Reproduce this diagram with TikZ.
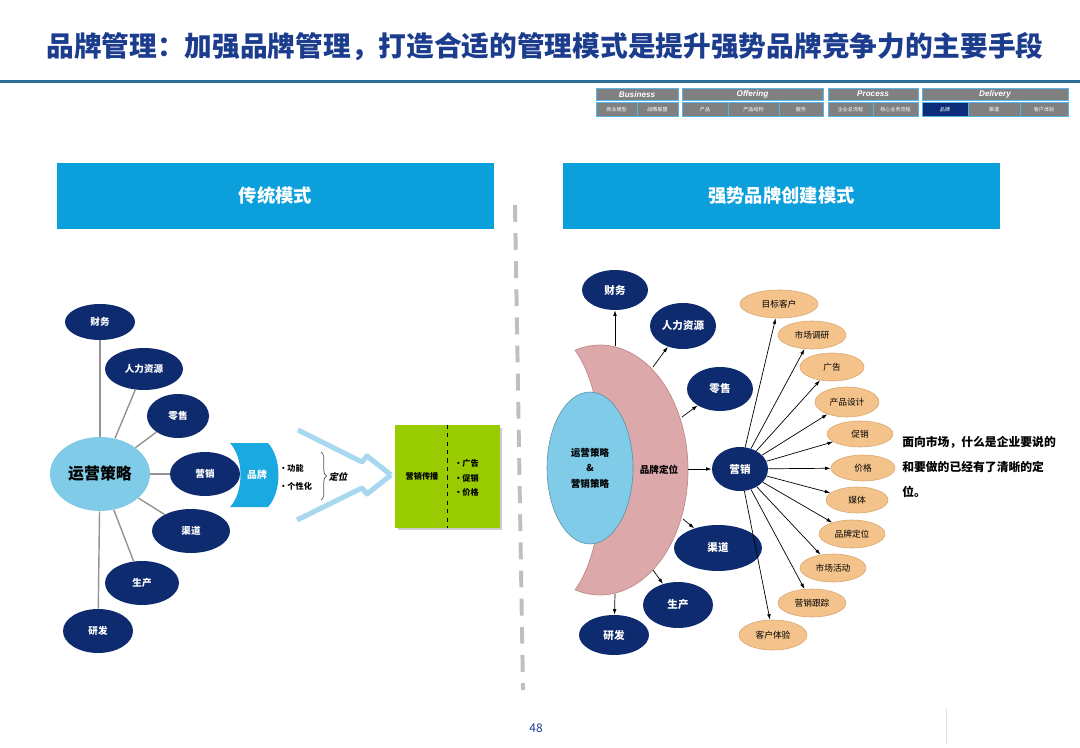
\documentclass[tikz,border=0pt]{standalone}
\usepackage{fontspec}
\setmainfont{Noto Sans CJK SC}
\newfontfamily\navfont{Liberation Sans}
\newfontfamily\slantcjk{Noto Sans CJK SC}[FakeSlant=0.2]
\usetikzlibrary{shapes.geometric,arrows.meta,decorations.pathreplacing}

\definecolor{titleblue}{HTML}{1C3C8E}
\definecolor{rulecol}{HTML}{2C6C95}
\definecolor{navgray}{HTML}{808080}
\definecolor{navline}{HTML}{55B5E6}
\definecolor{navsel}{HTML}{0B2C78}
\definecolor{headblue}{HTML}{0BA0DC}
\definecolor{darknavy}{HTML}{0D2B6E}
\definecolor{skyblue}{HTML}{7FCBE8}
\definecolor{brandblue}{HTML}{1AA9E1}
\definecolor{chevblue}{HTML}{A8D8EF}
\definecolor{limegreen}{HTML}{99CC00}
\definecolor{rosepink}{HTML}{DCA8AA}
\definecolor{roseedge}{HTML}{BE8A8D}
\definecolor{sandorange}{HTML}{F4C38B}
\definecolor{sandedge}{HTML}{D8A56E}

\newlength\pxl
\setlength\pxl{0.025cm}

\tikzset{
  navyell/.style={ellipse,fill=darknavy,text=white,inner sep=0pt,font=\bfseries\fontsize{6.8}{8}\selectfont},
  sandell/.style={ellipse,fill=sandorange,draw=sandedge,line width=.4pt,inner sep=0pt,font=\fontsize{6.2}{7}\selectfont},
  headbox/.style={rectangle,fill=headblue,text=white,inner sep=0pt,minimum width=437\pxl,minimum height=66\pxl,font=\bfseries\fontsize{13}{15}\selectfont},
  navcell/.style={fill=navgray,draw=navline,line width=.5pt},
  arr/.style={-{Latex[length=4pt,width=2.6pt]},line width=.5pt},
  spoke/.style={draw=gray!85,line width=1pt},
  smalltxt/.style={anchor=west,inner sep=0pt,font=\bfseries\fontsize{5.8}{7}\selectfont},
}

\begin{document}
\begin{tikzpicture}[x=0.025cm,y=-0.025cm,font=\small]
  \useasboundingbox (0,0) rectangle (1080,748);
  \node[text=titleblue,font=\bfseries\fontsize{19.7}{22}\selectfont] (title) at (545,47) {品牌管理：加强品牌管理，打造合适的管理模式是提升强势品牌竞争力的主要手段};
  \fill[rulecol] (0,80.5) rectangle (1080,83.5);

  % navigation bar
  \foreach \xa/\xb/\lab in {596/678/Business,682/823/Offering,828/918/Process,922/1068/Delivery}{
    \draw[navcell] (\xa,88) rectangle (\xb,100.5);
    \node[text=white,font=\navfont\bfseries\itshape\fontsize{5.8}{6}\selectfont] (nav\lab) at ({(\xa+\xb)/2},94.2) {\lab};
  }
  \foreach \xa/\xb/\lab/\nm in {596/637/商业模型/a,637/678/战略联盟/b,682/728/产品/c,728/779/产品结构/d,779/823/服务/e,828/873/企业总流程/f,873/918/核心业务流程/g,968/1020/渠道/i,1020/1068/客户体验/j}{
    \draw[navcell] (\xa,102) rectangle (\xb,116.5);
    \node[text=white,font=\fontsize{3.6}{4}\selectfont] (sub\nm) at ({(\xa+\xb)/2},109.2) {\lab};
  }
  \draw[navcell,fill=navsel] (922,102) rectangle (968,116.5);
  \node[text=white,font=\fontsize{3.6}{4}\selectfont] (subh) at (945,109.2) {品牌};

  % column heads and separator
  \node[headbox] (lhead) at (275.5,196) {传统模式};
  \node[headbox] (rhead) at (781.5,196) {强势品牌创建模式};
  \draw[gray!50,line width=2.8pt,dash pattern=on 12pt off 8pt] (515,205) -- (523,690);

  % traditional mode
  \node[ellipse,fill=skyblue,inner sep=0pt,minimum width=100\pxl,minimum height=74\pxl,font=\bfseries\fontsize{11.3}{13}\selectfont] (ops) at (100,474) {运营策略};
  \foreach \nm/\cx/\cy/\w/\h/\lab in {fin/100/322/70/36/财务,hr/144/369/78/42/人力资源,ret/178/416/62/44/零售,mkt/205/474/70/44/营销,chn/191/531/78/44/渠道,pro/142/583/74/44/生产,rd/98/631/70/44/研发}{
    \node[navyell,minimum width=\w\pxl,minimum height=\h\pxl] (\nm) at (\cx,\cy) {\lab};
    \draw[spoke] (ops) -- (\nm);
  }
  \fill[brandblue] (230,443) -- (268,443) .. controls (282,458) and (282,492) .. (268,507) -- (230,507) .. controls (244,492) and (244,458) .. (230,443) -- cycle;
  \node[text=white,font=\bfseries\fontsize{7}{8}\selectfont] (brand) at (257,475) {品牌};
  \node[smalltxt] (func) at (279,468) {•功能};
  \node[smalltxt] (pers) at (279,486) {•个性化};
  \draw[gray!70!black,line width=.5pt,decorate,decoration={brace,amplitude=4pt}] (321,452) -- (321,500);
  \node[font=\slantcjk\bfseries\fontsize{6.5}{7}\selectfont] (posi) at (338,477) {定位};
  \draw[chevblue,line width=3.6pt,line join=round] (298,430) -- (362,462) -- (367,456) -- (391,475);
  \draw[chevblue,line width=3.6pt,line join=round] (297,520) -- (362,488) -- (367,494) -- (391,475);
  \fill[gray!40] (398,428) rectangle (502,530);
  \node[fill=limegreen,inner sep=0pt,minimum width=105\pxl,minimum height=103\pxl] (mc) at (447.5,476.5) {};
  \draw[dashed,line width=.5pt] (mc.north) -- (mc.south);
  \node[font=\bfseries\fontsize{5.8}{7}\selectfont] (comm) at (422,476) {营销传播};
  \node[smalltxt] (ad) at (454,463) {•广告};
  \node[smalltxt] (promo) at (454,478) {•促销};
  \node[smalltxt] (price) at (454,492) {•价格};

  % strong brand mode
  \filldraw[fill=rosepink,draw=roseedge,line width=.5pt] plot[domain=-106.5:106.5,samples=50] ({600+88*cos(\x)},{470+125*sin(\x)}) .. controls (612,540) and (612,400) .. (575,350.2) -- cycle;
  \node[ellipse,fill=skyblue,draw=skyblue!70!black,line width=.4pt,inner sep=0pt,minimum width=86\pxl,minimum height=152\pxl,align=center,font=\bfseries\fontsize{6.8}{11}\selectfont] (ops2) at (590,468) {运营策略\\\&\\营销策略};
  \node[font=\bfseries\fontsize{6.8}{8}\selectfont] (bpos) at (659,470) {品牌定位};
  \foreach \nm/\cx/\cy/\w/\h/\lab in {fin2/615/290/66/40/财务,hr2/683/326/66/46/人力资源,ret2/720/389/66/44/零售,mkt2/740/469/56/44/营销,chn2/718/548/88/46/渠道,pro2/678/605/70/46/生产,rd2/614/635/70/40/研发}{
    \node[navyell,font=\bfseries\fontsize{7.5}{8}\selectfont,minimum width=\w\pxl,minimum height=\h\pxl] (\nm) at (\cx,\cy) {\lab};
  }
  \foreach \cx/\cy/\nm in {615/346/fin2,653/367/hr2,682/417/ret2,688/469/mkt2,683/519/chn2,653/570/pro2,615/594/rd2}{
    \draw[arr] (\cx,\cy) -- (\nm);
  }
  \foreach \nm/\cx/\cy/\w/\h/\lab in {o1/779/304/78/28/目标客户,o2/812/335/68/28/市场调研,o3/832/367/64/28/广告,o4/847/402/64/30/产品设计,o5/860/434/66/26/促销,o6/863/468/64/26/价格,o7/857/500/62/26/媒体,o8/852/534/66/28/品牌定位,o9/833/568/66/28/市场活动,o10/812/603/68/28/营销跟踪,o11/773/635/68/30/客户体验}{
    \node[sandell,minimum width=\w\pxl,minimum height=\h\pxl] (\nm) at (\cx,\cy) {\lab};
    \draw[arr] (mkt2) -- (\nm);
  }
  \node[anchor=west,align=left,inner sep=0pt,font=\bfseries\fontsize{8.4}{17.8}\selectfont] (note) at (902,467) {面向市场，什么是企业要说的\\和要做的已经有了清晰的定\\位。};

  % footer
  \node[text=titleblue,font=\fontsize{8.5}{10}\selectfont] (page) at (536,728) {48};
  \draw[black!12,line width=.7pt] (946,708) -- (946,743);
\end{tikzpicture}
\end{document}
